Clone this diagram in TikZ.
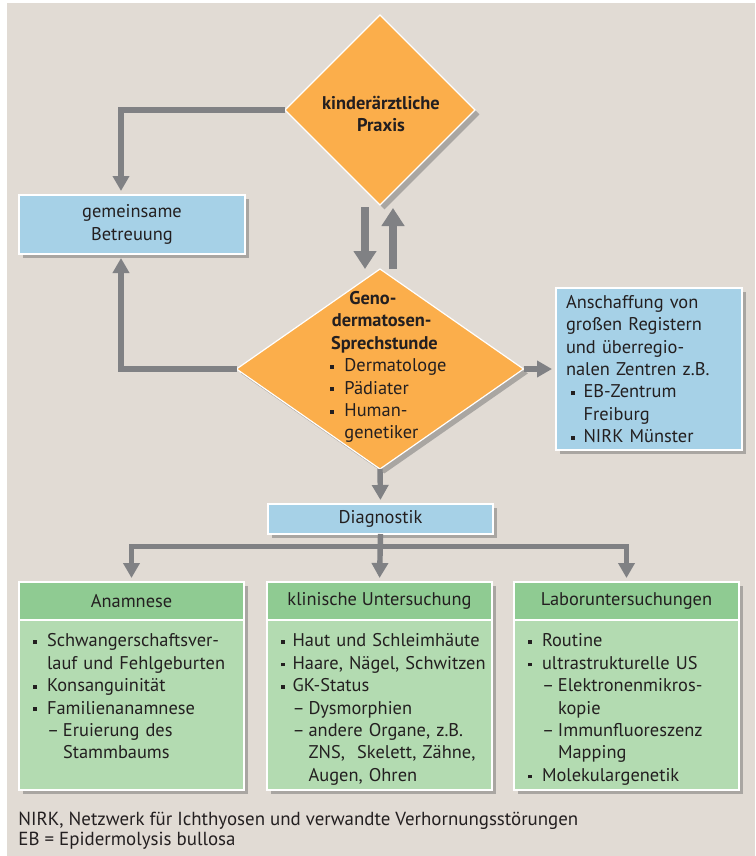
\documentclass[tikz,border=0pt]{standalone}
\usepackage{fontspec}
\setmainfont{PT Sans}
\usetikzlibrary{arrows.meta,shapes.geometric,shadows}

\definecolor{hinter}{HTML}{E1DBD4}
\definecolor{orangefl}{HTML}{FBAE4B}
\definecolor{blaufl}{HTML}{A6D1E7}
\definecolor{gruenkopf}{HTML}{8FCB92}
\definecolor{gruenfl}{HTML}{B3DBB1}
\definecolor{pfeil}{HTML}{808184}
\definecolor{schrift}{HTML}{231F20}

% Aufzaehlungen
\newlength{\bulw}\setlength{\bulw}{6.8pt}
\newlength{\bulx}\setlength{\bulx}{0pt}
\newcommand{\bulpt}{\raisebox{1.4pt}{\rule{1.9pt}{1.9pt}}}
\newcommand{\itm}[1]{\par\hangindent=\bulw\hangafter=1\noindent\makebox[\bulw][l]{\hspace*{\bulx}\bulpt}#1}
\newcommand{\subitm}[1]{\par\hangindent=\dimexpr\bulw+8pt\relax\hangafter=1\noindent\hspace*{\bulw}\makebox[8pt][l]{--}#1}

\begin{document}
\begin{tikzpicture}[x=0.5pt, y=-0.5pt,
    font=\fontsize{9.2}{11.2}\selectfont, text=schrift,
    schatten/.style={drop shadow={shadow xshift=2.2pt, shadow yshift=-2.2pt, fill=black!60, opacity=.45}},
    raute/.style={diamond, fill=orangefl, draw=white, line width=0.6pt, inner sep=0pt, outer sep=0pt, schatten},
    blaubox/.style={rectangle, fill=blaufl, draw=white, line width=0.6pt, inner sep=0pt, outer sep=0pt, schatten},
    kopf/.style={blaubox, fill=gruenkopf, minimum width=112.5pt, minimum height=19pt},
    rumpf/.style={blaubox, fill=gruenfl, minimum width=112.5pt, minimum height=85pt, anchor=north},
    liste/.style={anchor=north west, inner sep=0pt, align=left, text width=105pt},
    conn/.style={draw=pfeil, line width=2.7pt, -{Triangle[width=8pt,length=7.5pt]}, shorten >=2pt},
    dick/.style={draw=pfeil, line width=4pt, -{Triangle[width=11pt,length=9pt]}}]

    % Hintergrund
    \fill[white] (0,0) rectangle (755,856);
    \fill[hinter] (7,3) rectangle (755,856);

    % Rauten
    \node[raute, minimum width=95pt, minimum height=95pt] (praxis) at (380,110) {};
    \node[font=\fontsize{9.2}{11.2}\selectfont\bfseries, align=center, inner sep=0pt] (praxistext) at (381,114) {kinderärztliche\\Praxis};

    \node[raute, minimum width=143.5pt, minimum height=100pt] (sprech) at (380,369) {};
    \node[anchor=west, inner sep=0pt, align=left, text width=58pt] (sprechtext) at (326,367)
        {\setlength{\bulx}{2pt}\setlength{\bulw}{9pt}%
         {\centering\bfseries Geno-\newline dermatosen-\newline Sprechstunde\par}%
         \itm{Dermatologe}\itm{Pädiater}\itm{Human-\newline genetiker}\par};

    % blaue Kaesten
    \node[blaubox, minimum width=113pt, minimum height=29.5pt, align=center] (betreuung) at (132,224.5) {gemeinsame\\Betreuung};
    \node[blaubox, anchor=west, minimum width=93pt, minimum height=81pt, text width=83pt, inner xsep=5pt, align=left] (anschaffung) at (556,369)
        {\setlength{\bulx}{2.5pt}\setlength{\bulw}{8.8pt}%
         Anschaffung von\newline großen Registern\newline und überregio-\newline nalen Zentren z.B.%
         \itm{EB-Zentrum\newline Freiburg}\itm{NIRK Münster}\par};
    \node[blaubox, minimum width=112.5pt, minimum height=15pt] (diagnostik) at (380.5,519) {Diagnostik};

    % gruene Kaesten
    \node[kopf] (anam) at (131.5,601) {Anamnese};
    \node[rumpf] (anambody) at (anam.south) {};
    \node[liste] (anamtext) at (33,624)
        {\itm{Schwangerschaftsver-\newline lauf und Fehlgeburten}\itm{Konsanguinität}%
         \itm{Familienanamnese}\subitm{Eruierung des\newline Stammbaums}\par};

    \node[kopf] (klinisch) at (379.5,601) {klinische Untersuchung};
    \node[rumpf] (klinischbody) at (klinisch.south) {};
    \node[liste] (klinischtext) at (281,624)
        {\setlength{\bulw}{5.6pt}%
         \itm{Haut und Schleimhäute}\itm{Haare, Nägel, Schwitzen}\itm{GK-Status}%
         \subitm{Dysmorphien}\subitm{andere Organe, z.B.\newline ZNS,\ \ Skelett, Zähne,\newline Augen, Ohren}\par};

    \node[kopf] (labor) at (626.5,601) {Laboruntersuchungen};
    \node[rumpf] (laborbody) at (labor.south) {};
    \node[liste] (labortext) at (528,624)
        {\itm{Routine}\itm{ultrastrukturelle US}%
         \subitm{Elektronenmikros-\newline kopie}\subitm{Immunfluoreszenz\newline Mapping}%
         \itm{Molekulargenetik}\par};

    % Fussnote
    \node[anchor=north west, align=left, inner sep=0pt, font=\fontsize{9.45}{10}\selectfont] (fussnote) at (18,812)
        {NIRK, Netzwerk für Ichthyosen und verwandte Verhornungsstörungen\\EB = Epidermolysis bullosa};

    % Verbindungen
    \draw[conn] (praxis.west) -| ([xshift=-5.5pt]betreuung.north);
    \draw[conn] (sprech.west) -| ([xshift=-5.5pt]betreuung.south);
    \draw[dick] ([xshift=-7.5pt,yshift=-1pt]praxis.south) -- ([xshift=-7.5pt]sprech.north);
    \draw[dick] ([xshift=6.5pt]sprech.north) -- ([xshift=6.5pt,yshift=-1.5pt]praxis.south);
    \draw[conn] (sprech.east) -- (sprech.east -| anschaffung.west);
    \draw[conn] (sprech.south) -- (diagnostik.north);

    \coordinate (verz) at ([yshift=-6.3pt]diagnostik.south);
    \draw[conn] (diagnostik.south) -- (klinisch.north);
    \draw[conn] (verz) -| (anam.north);
    \draw[conn] (verz) -| (labor.north);
\end{tikzpicture}
\end{document}
